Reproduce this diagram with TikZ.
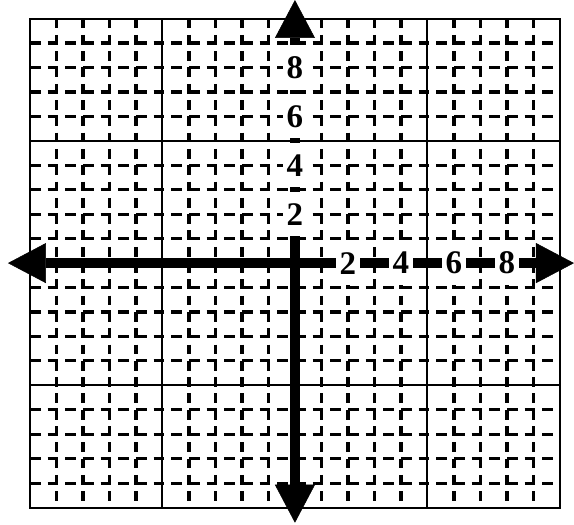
\documentclass[tikz,border=0pt]{standalone}
\usepackage{fontspec}
\setmainfont{Liberation Serif}
\usepackage{tikz}
\usetikzlibrary{
  arrows.meta,
  positioning
}
\definecolor{gpInk}{HTML}{000000}
\definecolor{gpRule}{HTML}{000000}
\tikzset{
  majorline/.style={draw=gpRule, line width=2pt},
  minorh/.style={draw=gpInk, line width=3.2pt, dash pattern=on 10.6pt off 7.07pt},
  minorv/.style={draw=gpInk, line width=3.2pt, dash pattern=on 9.8pt off 6.5pt},
  axisline/.style={
    draw=gpInk, line width=10pt,
    arrows={Triangle[length=38pt, width=40pt, line width=0.5pt]-Triangle[length=38pt, width=40pt, line width=0.5pt]}
  },
  ticklabel/.style={
    fill=white, font=\fontsize{33pt}{33pt}\selectfont\bfseries,
    inner xsep=4pt, inner ysep=11pt
  }
}

\begin{document}
\begin{tikzpicture}[x=26.5pt, y=24.45pt]
  \useasboundingbox (-11.13,-10.68) rectangle (10.53,10.76);
  % dashed minor grid
  \foreach \i in {-9,-8,-7,-6,-4,-3,-2,-1,1,2,3,4,6,7,8,9} {
    \draw[minorv] (\i,10) -- (\i,-10);
    \draw[minorh] (-10,\i) -- (10,\i);
  }
  % solid major grid
  \draw[majorline] (-10,-10) rectangle (10,10);
  \foreach \m in {-5,5} {
    \draw[majorline] (\m,-10) -- (\m,10);
    \draw[majorline] (-10,\m) -- (10,\m);
  }
  % axes
  \coordinate (xl) at (-10.83,0);
  \coordinate (xr) at (10.53,0);
  \coordinate (yb) at (0,-10.62);
  \coordinate (yt) at (0,10.76);
  \draw[axisline] (xl) -- (xr);
  \draw[axisline] (yb) -- (yt);
  % tick labels
  \foreach \t in {2,4,6,8} {
    \node[ticklabel] (x\t) at (\t,0) {\t};
    \node[ticklabel] (y\t) at (0,\t) {\t};
  }
\end{tikzpicture}
\end{document}
